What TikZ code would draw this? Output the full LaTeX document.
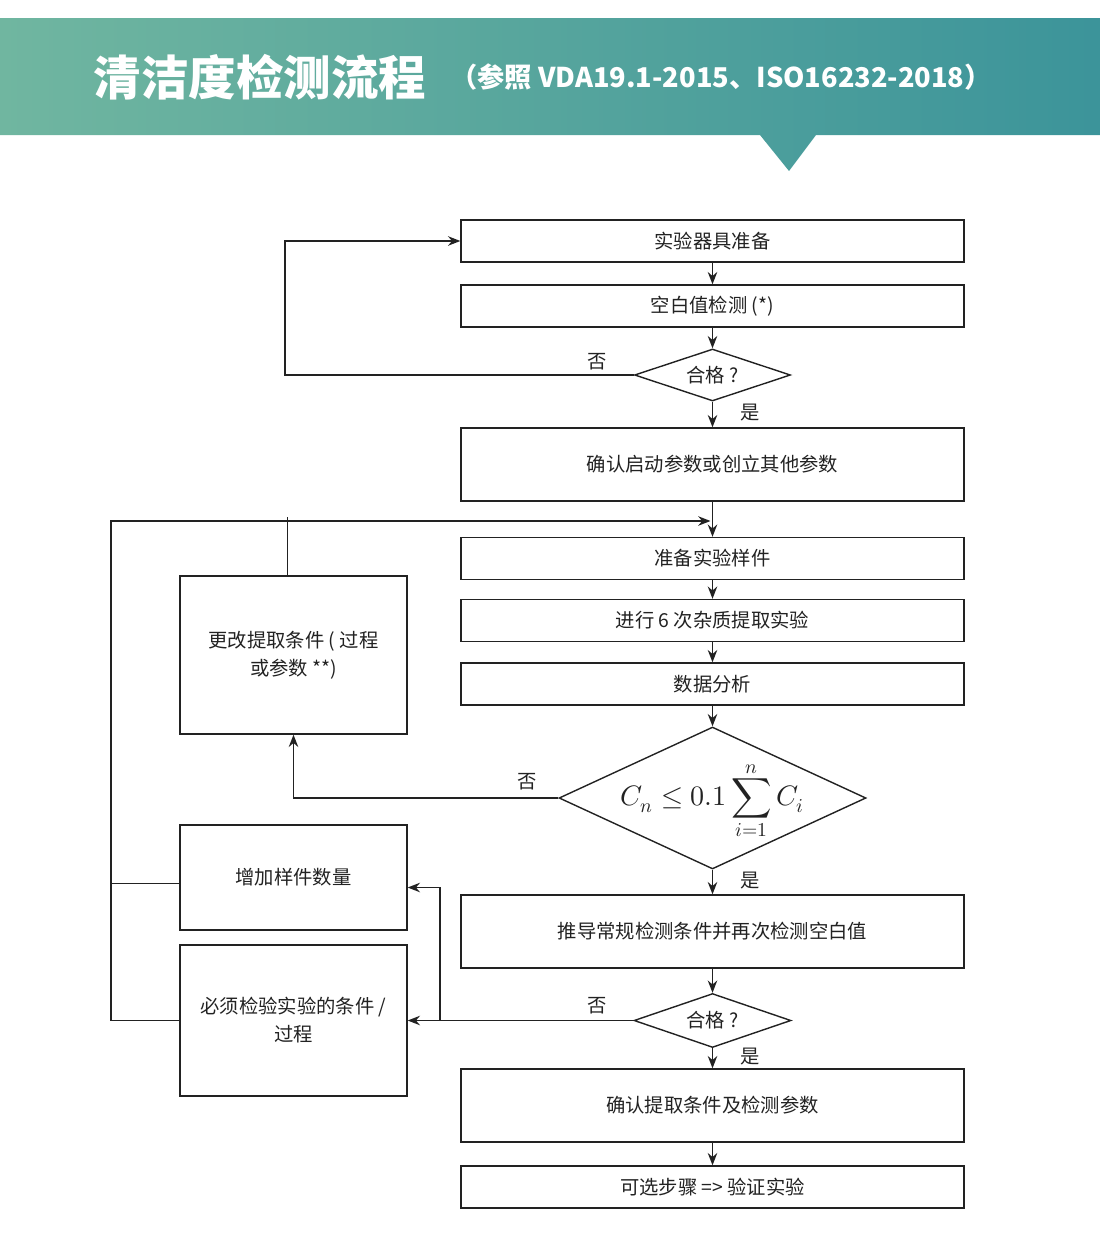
\documentclass[tikz,border=0pt]{standalone}
\usepackage{fontspec}
\usepackage{unicode-math}
\setmathfont{Latin Modern Math}
\newfontfamily\cjk{Noto Sans CJK SC}
\usepackage{tikz}
\usetikzlibrary{calc, positioning, arrows.meta, shapes.geometric}
\usepackage{xcolor}
\definecolor{hdrL}{RGB}{112, 182, 160}
\definecolor{hdrR}{RGB}{60, 148, 154}
\definecolor{ink}{RGB}{34, 34, 34}

\begin{document}
\begin{tikzpicture}[x=0.02cm, y=-0.02cm, >={Stealth[length=7pt, width=5.4pt]},
  font=\cjk\fontsize{11}{16}\selectfont,
  link/.style={draw=ink, line width=0.8pt},
  procbox/.style={link, minimum width=10.06cm, minimum height=0.84cm, inner sep=0pt, text=ink},
  tallbox/.style={procbox, minimum height=1.46cm},
  sidebox/.style={link, minimum width=4.54cm, inner sep=0pt, align=center, text=ink},
  testdia/.style={link, diamond, inner sep=0pt, aspect=3, minimum width=3.12cm, minimum height=1.04cm, text=ink},
  yesno/.style={text=ink}]
  \useasboundingbox (0,0) rectangle (1100,1254);

  % Header band with pointer
  \shade[left color=hdrL, right color=hdrR] (0,18) -- (1100,18) -- (1100,135) -- (816,135)
    -- (789,171) -- (760,135) -- (0,135) -- cycle;
  \node[font=\cjk\bfseries\fontsize{27}{30}\selectfont, text=white] (title) at (260,77) {清洁度检测流程};
  \node[font=\cjk\bfseries\fontsize{15.5}{18}\selectfont, text=white] (subtitle) at (721,77)
    {（参照 VDA19.1-2015、ISO16232-2018）};

  % Main column
  \node[procbox] (prep) at (712.5,241) {实验器具准备};
  \node[procbox] (blank) at (712.5,306) {空白值检测 (*)};
  \node[testdia] (passA) at (712.5,375) {合格 ?};
  \node[tallbox] (param) at (712.5,464.5) {确认启动参数或创立其他参数};
  \node[procbox] (sample) at (712.5,558.5) {准备实验样件};
  \node[procbox] (extract) at (712.5,620.5) {进行 6 次杂质提取实验};
  \node[procbox] (analyse) at (712.5,684) {数据分析};
  \node[testdia, minimum width=6.14cm, minimum height=2.84cm] (crit) at (712.5,798)
    {\smash{\makebox[0pt]{\raisebox{-0.4em}{\fontsize{16}{18}\selectfont$\displaystyle C_n \le 0.1\sum_{i=1}^{n} C_i$}}}};
  \node[tallbox] (derive) at (712.5,931.5) {推导常规检测条件并再次检测空白值};
  \node[testdia, minimum width=3.14cm, minimum height=1.08cm] (passB) at (712.5,1020.5) {合格 ?};
  \node[tallbox] (confirm) at (712.5,1105.5) {确认提取条件及检测参数};
  \node[procbox] (verify) at (712.5,1187) {可选步骤 => 验证实验};

  % Side boxes
  \node[sidebox, minimum height=3.16cm] (change) at (293.5,655) {更改提取条件 ( 过程\\或参数 **)};
  \node[sidebox, minimum height=2.1cm] (more) at (293.5,877.5) {增加样件数量};
  \node[sidebox, minimum height=3.02cm] (check) at (293.5,1020.5) {必须检验实验的条件 /\\过程};

  % Main flow
  \draw[link, ->] (prep) -- (blank);
  \draw[link, ->] (blank) -- (passA);
  \draw[link, ->] (passA) -- (param);
  \draw[link, ->] (param) -- (sample);
  \draw[link, ->] (sample) -- (extract);
  \draw[link, ->] (extract) -- (analyse);
  \draw[link, ->] (analyse) -- (crit);
  \draw[link, ->] (crit) -- (derive);
  \draw[link, ->] (derive) -- (passB);
  \draw[link, ->] (passB) -- (confirm);
  \draw[link, ->] (confirm) -- (verify);

  % Loops back
  \draw[link, ->] (passA.west) -- ++(-349,0) |- (prep.west);
  \coordinate (railT) at (111,521);
  \coordinate (railB) at (111,1020.5);
  \coordinate (split) at (440,1020.5);
  \draw[link, ->] (railB) -- (railT) -- ($(param.south |- railT)+(-2,0)$);
  \draw[link] ($(more.west)+(0,6)$) -- ($(more.west -| railT)+(0,6)$);
  \draw[link] (check.west) -- (railB);
  \draw[link] ($(change.north)+(-6,0)$) -- ++(0,-58);
  \draw[link, ->] (crit.west) -| (change.south);
  \draw[link, ->] (passB.west) -- (check.east);
  \draw[link, ->] (split) |- ($(more.east)+(0,10)$);

  % Yes / no labels
  \node[yesno] (noA) at (597,362) {否};
  \node[yesno] (yesA) at (750,413) {是};
  \node[yesno] (noC) at (527,782) {否};
  \node[yesno] (yesC) at (750,881) {是};
  \node[yesno] (noB) at (597,1006) {否};
  \node[yesno] (yesB) at (750,1057) {是};
\end{tikzpicture}
\end{document}
